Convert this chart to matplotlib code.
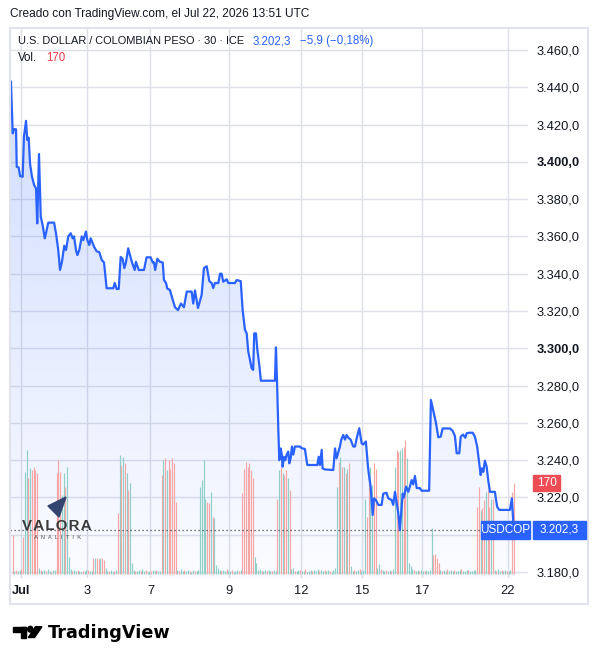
import numpy as np
import matplotlib.pyplot as plt
from matplotlib.patches import Rectangle, Polygon, Circle
from matplotlib.colors import to_rgb

plt.rcParams['font.family'] = ['Liberation Sans', 'DejaVu Sans']

W, H = 598, 664
BLUE = '#2962ff'
TXT = '#131722'
GRID = '#dde0e7'
UP = '#8fcfc8'
DOWN = '#f5a6a5'
RED = '#f23645'

# USD/COP 30-min closes, x = bar index
price_bar = [
    -1.0, 0.0, 0.7, 1.9, 2.3, 3.4, 4.2, 5.7, 6.4, 7.6, 8.3, 9.1, 9.9, 11.0, 12.2, 13.3,
    14.0, 15.0, 16.0, 17.1, 18.3, 19.0, 20.3, 23.6, 24.7, 26.0, 27.0, 28.1, 29.4, 30.4,
    31.7, 33.1, 34.2, 35.0, 36.1, 36.9, 38.0, 39.4, 40.3, 41.8, 42.6, 43.7, 44.5, 46.4,
    47.9, 49.4, 50.8, 52.1, 53.6, 57.4, 58.2, 59.3, 60.5, 61.6, 62.7, 63.7, 64.6, 65.9,
    66.9, 68.1, 69.6, 70.3, 71.9, 74.9, 76.4, 78.7, 79.9, 80.6, 81.3, 82.5, 84.0, 85.6,
    86.3, 87.5, 88.2, 89.7, 91.3, 92.6, 94.3, 96.0, 97.7, 99.3, 102.1, 103.0, 104.0,
    105.7, 107.8, 109.1, 110.7, 112.2, 113.5, 114.4, 115.4, 117.3, 118.3, 119.2, 120.1,
    122.1, 123.0, 126.8, 127.8, 130.1, 131.2, 132.5, 133.5, 134.4, 135.4, 136.3, 137.2,
    137.8, 138.8, 139.5, 140.7, 141.6, 149.6, 150.2, 150.9, 151.5, 152.1, 152.9, 153.5,
    154.0, 154.8, 155.5, 156.3, 157.2, 157.8, 158.6, 159.3, 160.1, 161.0, 163.9, 164.9,
    166.7, 168.1, 173.8, 174.6, 175.3, 176.3, 176.8, 178.2, 182.9, 183.9, 184.8, 185.7,
    186.7, 187.4, 188.6, 189.6, 190.5, 191.5, 192.8, 194.3, 195.3, 196.2, 197.7, 199.1,
    200.0, 201.5, 202.7, 203.4, 204.2, 205.4, 206.1, 207.2, 208.6, 210.5, 211.4, 213.3,
    214.3, 216.2, 217.1, 218.1, 219.1, 220.0, 220.9, 222.5, 223.2, 224.4, 225.7, 226.6,
    227.6, 228.5, 229.5, 230.5, 232.3, 233.3, 237.6, 238.6, 240.3, 241.5, 242.8, 244.2,
    245.3, 249.5, 251.0, 252.3, 253.3, 254.8, 255.6, 257.0, 258.2, 259.0, 260.5, 262.4,
    263.7, 265.0, 266.2, 267.0, 267.7, 268.5, 269.4, 270.4, 271.3, 272.3, 275.1, 276.4,
    277.6, 283.7, 284.8, 285.6, 286.0,
]
price_val = [
    3443.0, 3415.3, 3417.5, 3417.5, 3397.4, 3397.0, 3392.4, 3392.0, 3413.5, 3422.0, 3411.7,
    3413.0, 3399.0, 3392.0, 3387.6, 3385.8, 3367.0, 3404.2, 3370.6, 3366.0, 3359.0, 3361.7,
    3367.4, 3367.4, 3361.7, 3352.7, 3342.0, 3346.4, 3355.0, 3352.7, 3360.0, 3361.7, 3359.0,
    3360.0, 3352.7, 3350.0, 3352.7, 3360.0, 3358.0, 3362.6, 3358.0, 3355.4, 3359.0, 3354.5,
    3352.0, 3351.6, 3347.4, 3346.0, 3332.2, 3332.2, 3335.0, 3331.8, 3331.8, 3349.0, 3348.0,
    3343.0, 3346.0, 3353.6, 3350.0, 3346.0, 3342.0, 3346.4, 3342.0, 3342.0, 3348.8, 3348.8,
    3346.0, 3346.0, 3342.0, 3348.0, 3346.4, 3346.0, 3336.6, 3335.0, 3332.0, 3331.3, 3326.0,
    3322.0, 3320.5, 3324.0, 3322.0, 3330.4, 3330.4, 3324.0, 3331.0, 3321.6, 3328.6, 3343.0,
    3344.0, 3336.0, 3335.0, 3332.3, 3335.0, 3335.0, 3340.0, 3340.0, 3335.7, 3337.0, 3335.0,
    3335.0, 3336.6, 3336.0, 3320.5, 3310.0, 3308.0, 3298.2, 3293.7, 3289.3, 3288.4, 3308.0,
    3308.0, 3300.0, 3291.0, 3282.6, 3282.6, 3300.5, 3279.4, 3258.0, 3240.0, 3246.3, 3243.0,
    3236.5, 3241.8, 3240.0, 3242.8, 3244.6, 3238.3, 3241.0, 3247.3, 3243.0, 3247.3, 3247.3,
    3246.4, 3246.0, 3237.4, 3237.4, 3241.8, 3237.4, 3245.5, 3235.6, 3235.0, 3234.7, 3246.3,
    3241.0, 3244.0, 3247.3, 3250.8, 3253.5, 3251.0, 3253.5, 3252.0, 3251.0, 3247.3, 3247.3,
    3251.5, 3257.1, 3249.0, 3248.4, 3250.0, 3236.5, 3231.0, 3225.8, 3210.6, 3219.5, 3218.6,
    3216.0, 3216.0, 3222.0, 3222.5, 3219.5, 3218.6, 3216.0, 3223.0, 3216.8, 3211.4, 3202.5,
    3222.0, 3220.0, 3225.8, 3223.0, 3225.8, 3229.3, 3227.0, 3231.5, 3225.0, 3225.0, 3223.6,
    3223.6, 3272.3, 3265.0, 3260.0, 3252.3, 3252.6, 3257.0, 3257.0, 3255.7, 3253.0, 3243.7,
    3243.7, 3252.6, 3253.7, 3252.0, 3254.4, 3254.7, 3254.7, 3252.6, 3247.3, 3238.3, 3232.0,
    3235.6, 3233.7, 3239.7, 3236.5, 3229.3, 3223.0, 3223.0, 3215.0, 3213.3, 3213.3, 3219.5,
    3207.0, 3202.3,
]

# volume per bar (bar 0..286); sign = candle direction (+ up / - down)
volume = [
    -73,
    6, -8, 5, 7, -9,
    -70, 191, 232, -179, 198, -194, -200, -194, -189,
    11, -8, 6, 7, -5, 9, 6, -4, 7, 8,
    -188, -212, -191, 148, 189, -163, 200, 32,
    9, -6, 8, 5, -7, 6, 4, -6, 5, 8, -7, 6, 5,
    -29, 30, -30, -28, 30, -29, -27, 12,
    6, -5, 7, 4, -6, 8,
    -113, 222, -204, 219, -207, 188, -157, 170, 20,
    7, -5, 6, 8, -6, 9, 5, -7, 4, 6, -5, 7, 6, -8, 5, 6,
    -185, 213, -216, 194, -213, -197, -216, -207, -135,
    8, -6, 9, 5, -7, 6, 8, -5, 4, 7, -6, 5, 8,
    163, 176, 213, 141, -135, -132, 154, -107, 104, 17, 11,
    8, -5, 7, 6, -9, 5, 6, -7, 4, 6, 8, -5, 7,
    -151, -197, -210, -200, -207, -194, -179, 32, 20,
    7, 9, -6, 5, 8, -6, 7, 5, -6, 8, 6,
    -141, 194, -200, 188, -185, -194, 179, -157,
    9, 12, -6, 5, 8, -7, 6, 5, -9, 4, 6, 7, -5, 8, 6, 9, -5, 7, 6, -8, 5, 7, -6, 4, 8, 12,
    163, -210, 219, -200, 200, -188, 197, -207, 15,
    6, -8, 5, 7, -9, 6, 7,
    141, -107, -182, 200, 166, -207, -197,
    12, 18, -9, 7, 6, -8, 5, 7, -6, 9,
    200, -232, -228, 232, 235, -238, -250, 216, 20,
    15, 9, -7, 6, 8, -5, 7, 6, -5, 8, 6, 7,
    85, -35, -38, -30, -20,
    7, -5, 8, 6, -9, 5, 7, 6, -8, 5, 6, 7, -9, 5, 6, 8, -7, 5, 6, 8, 7,
    -126, -163, 120, -123, -138, 154, -157, -126, 141, -141,
    8, -6, 9, 5, -7, 6, 8, -5, 6, 7,
    -154, -170,
]

tick_bar = [5.0, 42.4, 78.6, 123.4, 164.7, 199.3, 233.8, 282.5]
tick_lbl = ['Jul', '3', '7', '9', '12', '15', '17', '22']
price_ticks = list(range(3180, 3461, 20))

last_price = 3202.3
change = -5.9
change_pct = -0.18
last_vol = 170


def fmt_es(v, dec=1):
    s = f'{v:,.{dec}f}'
    return s.replace(',', ' ').replace('.', ',').replace(' ', '.')


def fx(x):
    return x / W


def fy(y):
    return 1 - y / H


fig = plt.figure(figsize=(W / 100, H / 100), dpi=100)
fig.patch.set_facecolor('white')

# outer chart frame
fig.patches.append(Rectangle((fx(10), fy(604)), 578 / W, 576 / H, transform=fig.transFigure,
                             fill=False, ec='#e0e3eb', lw=1.5))

axv = fig.add_axes([fx(10), fy(578), 518 / W, 549 / H])
axv.set_ylim(-7.5, 1018)
axv.axis('off')
ax = axv.twinx()
ax.xaxis.set_visible(True)

bx = np.array(price_bar)
by = np.array(price_val)
ylo, yhi = 3176.78, 3471.26

# gradient area under the line
fill = ax.fill_between(bx, by, ylo, facecolor='none', edgecolor='none')
n = 256
grad = np.zeros((n, 1, 4))
grad[..., :3] = to_rgb(BLUE)
grad[:, 0, 3] = np.linspace(0.02, 0.24, n)
im = ax.imshow(grad, extent=[bx.min(), bx.max(), ylo, yhi], aspect='auto',
               origin='lower', zorder=1, interpolation='bilinear')
im.set_clip_path(fill.get_paths()[0], transform=ax.transData)

# volume bars, on the volume scale
vol = np.array(volume)
vidx = np.arange(len(vol))
ax.vlines(vidx, 0, np.abs(vol), colors=[UP if v > 0 else DOWN for v in vol],
          lw=0.85, transform=axv.transData, zorder=1.5)

ax.plot(bx, by, color=BLUE, lw=1.6, zorder=3, solid_joinstyle='round')
ax.axhline(last_price, color='#434651', lw=0.9, ls=(0, (1, 2.2)), zorder=2)

ax.set_xlim(-1.54, 294.0)
ax.set_ylim(ylo, yhi)
ax.set_yticks(price_ticks)
ax.set_yticklabels(['' if p == 3200 else fmt_es(p) for p in price_ticks])
for lab, p in zip(ax.get_yticklabels(), price_ticks):
    if p in (3300, 3400):
        lab.set_fontweight('bold')
ax.set_xticks(tick_bar)
ax.set_xticklabels(tick_lbl)
ax.get_xticklabels()[0].set_fontweight('bold')
ax.tick_params(axis='y', length=0, pad=6.5, labelsize=9.3, labelcolor=TXT)
ax.tick_params(axis='x', length=0, pad=5, labelsize=9.3, labelcolor=TXT,
               labelbottom=True, bottom=True)
ax.grid(True, color=GRID, lw=1)
ax.set_axisbelow(True)
for s in ax.spines.values():
    s.set_visible(False)

# header texts
fig.text(fx(10), fy(14), 'Creado con TradingView.com, el Jul 22, 2026 13:51 UTC',
         fontsize=8.6, color=TXT, va='center')
fig.text(fx(18), fy(41), 'U.S. DOLLAR / COLOMBIAN PESO · 30 · ICE', fontsize=7.9,
         color=TXT, va='center')
fig.text(fx(253), fy(41), fmt_es(last_price), fontsize=8.3, color=BLUE, va='center')
fig.text(fx(300), fy(41), f'\u2212{fmt_es(abs(change))} (\u2212{fmt_es(abs(change_pct), 2)}%)',
         fontsize=8.3, color=BLUE, va='center')
fig.text(fx(18), fy(58), 'Vol.', fontsize=8.3, color=TXT, va='center')
fig.text(fx(46), fy(58), str(last_vol), fontsize=8.3, color=RED, va='center')

# last value badges on the price scale
fig.patches.append(Rectangle((fx(533), fy(491)), 27 / W, 16 / H, transform=fig.transFigure,
                             color='#ef4d55', zorder=5))
fig.text(fx(546.5), fy(483), str(last_vol), fontsize=8.5, color='white', ha='center',
         va='center', zorder=6)
fig.patches.append(Rectangle((fx(481), fy(539)), 49 / W, 18 / H, transform=fig.transFigure,
                             color=BLUE, zorder=5))
fig.text(fx(505.5), fy(530), 'USDCOP', fontsize=8.5, color='white', ha='center',
         va='center', zorder=6)
fig.patches.append(Rectangle((fx(533), fy(539)), 53 / W, 18 / H, transform=fig.transFigure,
                             color=BLUE, zorder=5))
fig.text(fx(559.5), fy(530), fmt_es(last_price), fontsize=8.5, color='white', ha='center',
         va='center', zorder=6)

# Valora Analitik watermark
fig.patches.append(Polygon([(fx(48), fy(506)), (fx(66), fy(497)), (fx(59), fy(517))],
                           closed=True, transform=fig.transFigure, color='#34466f', zorder=4))
for yy in (503, 507, 511):
    fig.lines.append(plt.Line2D([fx(50), fx(64)], [fy(yy), fy(yy - 3)],
                                transform=fig.transFigure, color='white', lw=0.6, zorder=4))
fig.text(fx(57), fy(526.5), '\u200a'.join('VALORA'), fontsize=10.8, fontweight='bold',
         color='#3a3a3a', ha='center', va='center', zorder=4)
fig.text(fx(58), fy(537.5), 'A  N  A  L  I  T  I  K', fontsize=4.2, color='#555555',
         ha='center', va='center', zorder=4)

# TradingView logo
fig.patches.append(Rectangle((fx(12.7), fy(631.5)), 13.3 / W, 4.8 / H,
                             transform=fig.transFigure, color='black'))
fig.patches.append(Rectangle((fx(20.7), fy(637.5)), 5.3 / W, 10.8 / H,
                             transform=fig.transFigure, color='black'))
fig.patches.append(Circle((fx(30.3), fy(629.2)), 2.6 / W, transform=fig.transFigure,
                          color='black'))
fig.patches.append(Polygon([(fx(35.5), fy(626.7)), (fx(42), fy(626.7)), (fx(34.5), fy(637.5)),
                            (fx(28.3), fy(637.5))], closed=True, transform=fig.transFigure,
                           color='black'))
fig.text(fx(48), fy(633.5), 'TradingView', fontsize=12.7, fontweight='bold',
         family=['DejaVu Sans'], color='black', va='center')

fig.savefig('out.png', dpi=100, facecolor='white')
